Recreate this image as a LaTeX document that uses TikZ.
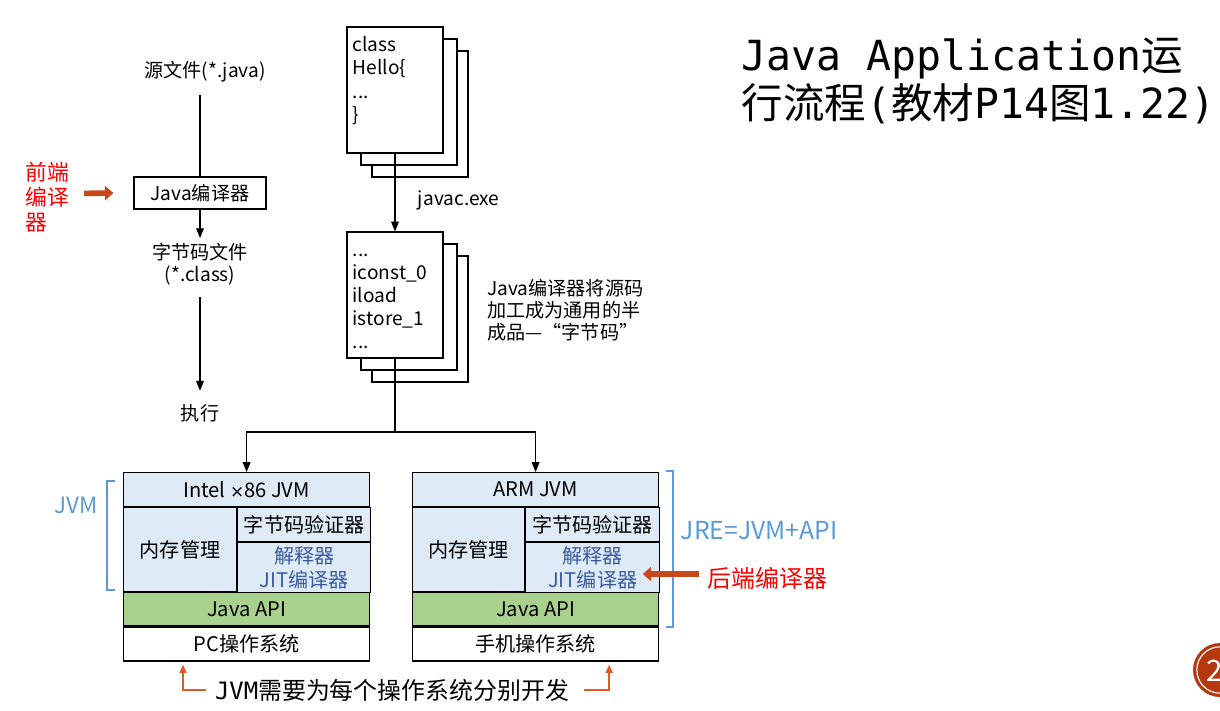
\documentclass[tikz,border=0pt]{standalone}
\usepackage{fontspec}
\setmainfont{Noto Sans CJK SC}
\newfontfamily\monofont{DejaVu Sans Mono}
\newfontfamily\latinfont{DejaVu Sans}
\usetikzlibrary{arrows.meta}

\definecolor{cellblue}{HTML}{DEEAF6}
\definecolor{apigreen}{HTML}{A9D18E}
\definecolor{jitblue}{HTML}{3A5BA0}
\definecolor{lblblue}{HTML}{5B9BD5}
\definecolor{arrred}{HTML}{C8471B}
\definecolor{notered}{HTML}{FF0000}
\definecolor{orline}{HTML}{E05A28}
\definecolor{pageno}{HTML}{B5390F}

\begin{document}
\begin{tikzpicture}[x=0.025cm,y=-0.025cm]
            \tikzset{line/.style={line width=0.8pt}};
            \tikzset{arrow/.style={line, -{Triangle[length=7pt,width=5.5pt]}}};
            \tikzset{redarrow/.style={line width=4pt, arrred, -{Triangle[length=6pt,width=10pt]}}};
            \tikzset{orarrow/.style={line width=1.2pt, orline, -{Triangle[length=6pt,width=5pt]}}};
            \tikzset{txt/.style={font=\fontsize{13.6}{15.6}\selectfont}};
            \tikzset{page/.style={line, draw, fill=white, minimum width=2.4cm, minimum height=3.15cm}};
            \tikzset{code/.style={font=\fontsize{13.6}{16.4}\selectfont, align=left, inner sep=0pt, anchor=north west}};
            \tikzset{cell/.style={line, draw, fill=cellblue, anchor=north west, inner sep=0pt, font=\fontsize{14.3}{17}\selectfont}};
            \tikzset{bracket/.style={line, lblblue}};

            \useasboundingbox (0,0) rectangle (1220,710);

            % title
            \node[anchor=base west, font=\fontsize{29.5}{36}\selectfont] (t1) at (737,70) {{\monofont Java Application}运};
            \node[anchor=base west, font=\fontsize{29.5}{36}\selectfont] (t2) at (737,118) {行流程{\monofont(}教材{\monofont P14}图{\monofont 1.22)}};

            % left column
            \node[txt] (src) at (205,72) {源文件(*.java)};
            \node[line, draw, txt, minimum width=3.3cm, minimum height=0.8cm] (javac) at (200,193) {Java编译器};
            \node[txt, align=center] (cls) at (200,264) {字节码文件\\(*.class)};
            \node[txt] (run) at (200,413) {执行};

            \draw[line] (src.south -| javac.north) ++(0,8) -- (javac);
            \draw[arrow] (javac) -- (cls);
            \draw[arrow, shorten <=5pt, shorten >=6pt] (cls) -- (run);

            \node[anchor=north west, align=left, notered, inner sep=0pt, font=\fontsize{15.5}{17.8}\selectfont] (fe) at (25,162) {前端\\编译\\器};
            \draw[redarrow] ([shift={(15,-4)}]fe.east) -- ([shift={(-20,0)}]javac.west);

            % source pages
            \node[page] (s3) at (420,114) {};
            \node[page] (s2) at (409,102) {};
            \node[page] (s1) at (395,90) {};
            \node[code] (srccode) at ([shift={(6,10)}]s1.north west) {class\\Hello\{\\...\\\}};

            % bytecode pages
            \node[page] (b3) at (420,319) {};
            \node[page] (b2) at (409,307) {};
            \node[page] (b1) at (395,295) {};
            \node[code] (bytecode) at ([shift={(6,22)}]b1.north west) {...\\iconst\_0\\iload\\istore\_1\\...};

            \draw[arrow] (s1) -- (b1);
            \node[txt, anchor=west] (jv) at (413,200) {javac.exe};
            \node[txt, align=left, anchor=north west, inner sep=0pt] (note) at (487,279) {Java编译器将源码\\加工成为通用的半\\成品—“字节码”};

            \coordinate (split) at (395,432);
            \draw[line] (b1) -- (split);

            % x86 jvm
            \node[cell, minimum width=6.15cm, minimum height=0.85cm] (x86) at (123,472) {Intel {\latinfont\fontsize{12}{14}\selectfont ×}86 JVM};
            \node[cell, minimum width=2.825cm, minimum height=2.1cm] (x86mem) at (x86.south west) {内存管理};
            \node[cell, minimum width=3.325cm, minimum height=0.85cm] (x86ver) at (x86mem.north east) {字节码验证器};
            \node[cell, minimum width=3.325cm, minimum height=1.25cm, text=jitblue, align=center] (x86jit) at (x86ver.south west) {解释器\\JIT编译器};
            \node[cell, fill=apigreen, minimum width=6.15cm, minimum height=0.825cm] (x86api) at (x86mem.south west) {Java API};
            \node[cell, fill=white, minimum width=6.15cm, minimum height=0.85cm] (pcos) at (x86api.south west) {PC操作系统};

            % arm jvm
            \node[cell, minimum width=6.15cm, minimum height=0.85cm] (arm) at (412,472) {ARM JVM};
            \node[cell, minimum width=2.8cm, minimum height=2.1cm] (armmem) at (arm.south west) {内存管理};
            \node[cell, minimum width=3.35cm, minimum height=0.85cm] (armver) at (armmem.north east) {字节码验证器};
            \node[cell, minimum width=3.35cm, minimum height=1.25cm, text=jitblue, align=center] (armjit) at (armver.south west) {解释器\\JIT编译器};
            \node[cell, fill=apigreen, minimum width=6.15cm, minimum height=0.825cm] (armapi) at (armmem.south west) {Java API};
            \node[cell, fill=white, minimum width=6.15cm, minimum height=0.85cm] (phoneos) at (armapi.south west) {手机操作系统};

            \draw[arrow] (split) -| (x86);
            \draw[arrow] (split) -| (arm);

            % brackets
            \draw[bracket] (115,481) -- (107,481) -- (107,590) -- (115,590);
            \node[lblblue, font=\fontsize{16}{19}\selectfont] (jvmlbl) at (76,505) {JVM};
            \draw[bracket] (666,471) -- (673,471) -- (673,627) -- (666,627);
            \node[lblblue, anchor=west, font=\fontsize{17.6}{20}\selectfont] (jre) at (676,531) {JRE=JVM+API};

            \node[notered, anchor=west, font=\fontsize{17}{20}\selectfont] (be) at (703,578) {后端编译器};
            \draw[redarrow, shorten >=-12.5pt] ([shift={(-4,-4)}]be.west) -- ([shift={(0,-4)}]be.west -| armjit.east);

            % bottom note
            \node[font=\fontsize{17}{20}\selectfont] (note2) at (392,690) {{\monofont JVM}需要为每个操作系统分别开发};
            \draw[orarrow] ([shift={(-4,0)}]note2.west) -| ([shift={(60,3)}]pcos.south west);
            \draw[orarrow] ([shift={(10,0)}]note2.east) -| ([shift={(-50,3)}]phoneos.south east);

            % page number
            \fill[pageno] (1220,670) circle[radius=0.675cm];
            \draw[white, line width=0.8pt] (1220,670) circle[radius=0.58cm];
            \node[white, font=\fontsize{21}{24}\selectfont] (pno) at (1215,671) {2};
        \end{tikzpicture}
\end{document}
